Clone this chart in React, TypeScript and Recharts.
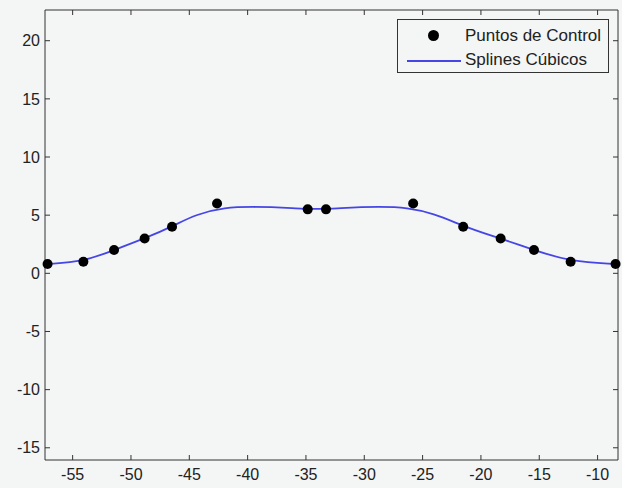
import {
  ComposedChart,
  Legend,
  Line,
  Scatter,
  XAxis,
  YAxis,
} from "recharts";

// control points
const controlX = [
  -57.15, -54.08, -51.45, -48.83, -46.48, -42.62, -34.85,
  -33.28, -25.81, -21.52, -18.31, -15.45, -12.31, -8.46,
];
const controlY = [0.8, 1, 2, 3, 4, 6, 5.5, 5.5, 6, 4, 3, 2, 1, 0.8];

const xTicks = [-55, -50, -45, -40, -35, -30, -25, -20, -15, -10];
const yTicks = [-15, -10, -5, 0, 5, 10, 15, 20];
const xDomain = [-57.37, -8.25];
const yDomain = [-16.05, 22.64];

const seriesNames = ["Puntos de Control", "Splines Cúbicos"];

const data = controlX.map((x, i) => ({ x, y: controlY[i] }));

const bg = "#f4f5f5";
const axisColor = "#333";
const tickFont = { fill: "#222", fontSize: 16, fontFamily: "Liberation Sans, Arial, sans-serif" };

const MatlabLegend = () => (
  <div
    style={{
      position: "absolute",
      left: 397,
      top: 19,
      width: 212,
      height: 54,
      border: "1px solid #333",
      background: bg,
      fontFamily: "Liberation Sans, Arial, sans-serif",
      fontSize: 17,
      color: "#222",
      boxSizing: "border-box",
    }}
  >
    <div style={{ position: "absolute", left: 30, top: 10, width: 11, height: 11, borderRadius: "50%", background: "#000" }} />
    <div style={{ position: "absolute", left: 67, top: 6, whiteSpace: "nowrap" }}>{seriesNames[0]}</div>
    <div style={{ position: "absolute", left: 9, top: 40, width: 54, height: 0, borderTop: "2px solid #4646e6" }} />
    <div style={{ position: "absolute", left: 67, top: 30, whiteSpace: "nowrap" }}>{seriesNames[1]}</div>
  </div>
);

const App = () => {
  return (
    <div style={{ position: "fixed", left: 0, top: 0, width: 622, height: 488, background: bg }}>
      <ComposedChart
        width={622}
        height={488}
        data={data}
        margin={{ top: 9, right: 3, left: 0, bottom: 0 }}
      >
        <XAxis
          xAxisId="bottom"
          dataKey="x"
          type="number"
          domain={xDomain}
          ticks={xTicks}
          height={28}
          stroke={axisColor}
          tickSize={-5}
          tickMargin={14}
          tick={tickFont}
        />
        <XAxis
          xAxisId="top"
          dataKey="x"
          type="number"
          orientation="top"
          domain={xDomain}
          ticks={xTicks}
          height={1}
          stroke={axisColor}
          tickSize={-5}
          tickFormatter={() => ""}
        />
        <YAxis
          yAxisId="left"
          type="number"
          domain={yDomain}
          ticks={yTicks}
          width={45}
          stroke={axisColor}
          tickSize={-5}
          tickMargin={10}
          tick={tickFont}
        />
        <YAxis
          yAxisId="right"
          type="number"
          orientation="right"
          domain={yDomain}
          ticks={yTicks}
          width={1}
          stroke={axisColor}
          tickSize={-5}
          tickFormatter={() => ""}
        />
        <Legend content={<MatlabLegend />} wrapperStyle={{ position: "absolute", left: 0, top: 0, width: 0, height: 0 }} />
        <Line
          xAxisId="bottom"
          yAxisId="left"
          dataKey="y"
          name={seriesNames[1]}
          type="basis"
          stroke="#4646e6"
          strokeWidth={1.8}
          dot={false}
          isAnimationActive={false}
        />
        <Scatter
          xAxisId="top"
          yAxisId="right"
          dataKey="y"
          name={seriesNames[0]}
          fill="#000"
          shape={(p: any) => <circle cx={p.cx} cy={p.cy} r={5} fill="#000" />}
          isAnimationActive={false}
        />
      </ComposedChart>
    </div>
  );
};

export default App;
